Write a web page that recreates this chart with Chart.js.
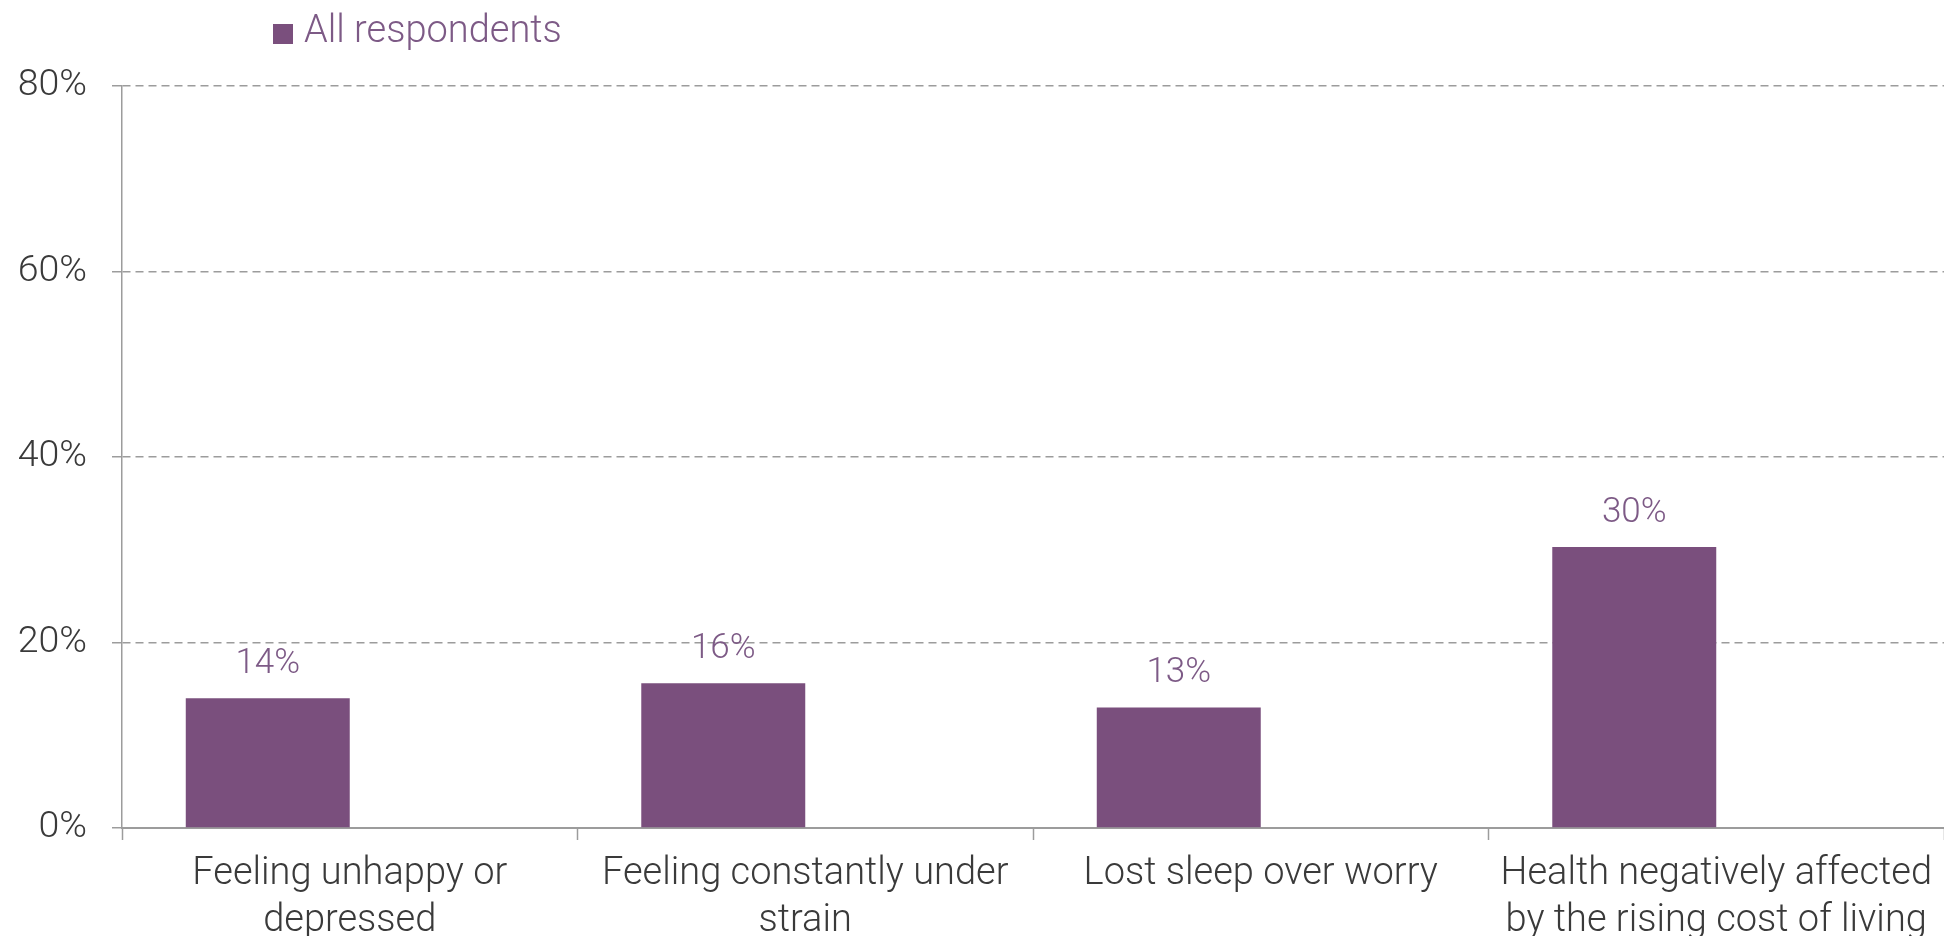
<!DOCTYPE html>
<html>
<head>
<meta charset="utf-8">
<script src="https://cdn.jsdelivr.net/npm/chart.js@4.4.1/dist/chart.umd.min.js"></script>
<style>
  html, body { margin: 0; padding: 0; background: #ffffff; }
  #wrap { width: 1944px; height: 936px; position: relative; }
</style>
</head>
<body>
<div id="wrap"><canvas id="c" width="1944" height="936"></canvas></div>
<script>
const categories = [
  ["Feeling unhappy or", "depressed"],
  ["Feeling constantly under", "strain"],
  ["Lost sleep over worry"],
  ["Health negatively affected", "by the rising cost of living"]
];
const seriesName = "All respondents";
const allRespondents = [14.0, 15.6, 13.0, 30.3];
const emptySeries = [null, null, null, null];
const yTicks = [0, 20, 40, 60, 80];

const BAR = '#7a4f7d';
const LABEL_PURPLE = '#7d5a86';
const TEXT = '#3a3a3a';
const GRID = '#9c9c9c';
const FONT = 'Roboto, "Liberation Sans", sans-serif';

const valueLabels = {
  id: 'valueLabels',
  afterDatasetsDraw(chart) {
    const ctx = chart.ctx;
    const meta = chart.getDatasetMeta(0);
    ctx.save();
    ctx.font = '300 35px ' + FONT;
    ctx.fillStyle = LABEL_PURPLE;
    ctx.textAlign = 'center';
    ctx.textBaseline = 'alphabetic';
    meta.data.forEach((bar, i) => {
      const v = allRespondents[i];
      if (v == null) return;
      ctx.fillText(Math.round(v) + '%', bar.x, bar.y - 25);
    });
    ctx.restore();
  }
};

const customLegend = {
  id: 'customLegend',
  afterDraw(chart) {
    const ctx = chart.ctx;
    ctx.save();
    ctx.fillStyle = BAR;
    ctx.fillRect(273, 24, 20, 20);
    ctx.font = '300 38px ' + FONT;
    ctx.fillStyle = LABEL_PURPLE;
    ctx.textAlign = 'left';
    ctx.textBaseline = 'alphabetic';
    ctx.fillText(chart.data.datasets[0].label, 304, 42);
    ctx.restore();
  }
};

new Chart(document.getElementById('c'), {
  type: 'bar',
  data: {
    labels: categories,
    datasets: [
      { label: seriesName, data: allRespondents, backgroundColor: BAR, borderWidth: 0 },
      { label: '', data: emptySeries, backgroundColor: BAR, borderWidth: 0 }
    ]
  },
  options: {
    responsive: false,
    animation: false,
    devicePixelRatio: 1,
    categoryPercentage: 0.72,
    barPercentage: 1.0,
    layout: { padding: { left: 0, right: 0, top: 86, bottom: 0 } },
    plugins: {
      legend: { display: false },
      tooltip: { enabled: false },
      title: { display: false }
    },
    scales: {
      x: {
        offset: true,
        afterFit(scale) { scale.height = 108; },
        grid: {
          display: true,
          offset: true,
          drawOnChartArea: false,
          drawTicks: true,
          tickLength: 12,
          tickColor: GRID,
          tickWidth: 1.5
        },
        border: { display: true, color: GRID, width: 2 },
        ticks: {
          color: TEXT,
          font: { family: FONT, size: 38, weight: 300, lineHeight: 1.24 },
          padding: 11,
          maxRotation: 0,
          autoSkip: false
        }
      },
      y: {
        min: 0,
        max: 80,
        afterBuildTicks(scale) { scale.ticks = yTicks.map(v => ({ value: v })); },
        afterFit(scale) { scale.width = 122; },
        grid: {
          color: GRID,
          lineWidth: 1.5,
          drawTicks: true,
          tickLength: 10,
          tickColor: GRID,
          tickWidth: 1.5,
          tickBorderDash: []
        },
        border: { display: true, color: GRID, width: 1.5, dash: [8, 5] },
        ticks: {
          color: TEXT,
          font: { family: FONT, size: 37.5, weight: 300 },
          padding: 25,
          callback: v => v + '%'
        }
      }
    }
  },
  plugins: [valueLabels, customLegend]
});
</script>
</body>
</html>
